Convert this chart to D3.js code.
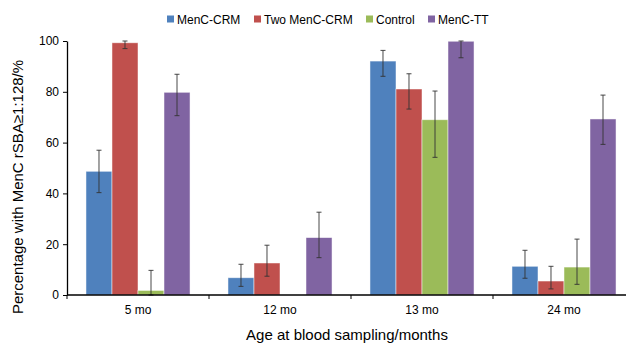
<!DOCTYPE html>
<html>
<head>
<meta charset="utf-8">
<script src="https://cdn.jsdelivr.net/npm/d3@7"></script>
<style>
  html, body { margin: 0; padding: 0; background: #fff; }
  svg { display: block; font-family: "Liberation Sans", Arial, sans-serif; }
</style>
</head>
<body>
<div id="chart"></div>
<script>
// data
const ages = ['5 mo', '12 mo', '13 mo', '24 mo'];
const groups = ['MenC-CRM', 'Two MenC-CRM', 'Control', 'MenC-TT'];
const colors = ['#4F81BD', '#C0504D', '#9BBB59', '#8064A2'];

// percentage per group, one entry per age
const menCCrm = [48.7, 6.8, 92.1, 11.3];
const twoMenCCrm = [99.3, 12.6, 81.1, 5.5];
const control = [1.8, 0, 69, 11];
const menCTT = [79.8, 22.6, 99.9, 69.3];

const menCCrmLo = [40.3, 3.4, 86.1, 6.6];
const menCCrmHi = [57, 12.1, 96.3, 17.6];
const twoMenCCrmLo = [97, 7.4, 73.2, 2.4];
const twoMenCCrmHi = [100, 19.6, 87.1, 11.3];
const controlLo = [0, null, 54.2, 4.2];
const controlHi = [9.7, null, 80.3, 22];
const menCTTLo = [70.6, 14.7, 93.4, 59.3];
const menCTTHi = [86.9, 32.6, 100, 78.7];

const yTicks = [0, 20, 40, 60, 80, 100];

const series = [
  { values: menCCrm, lo: menCCrmLo, hi: menCCrmHi },
  { values: twoMenCCrm, lo: twoMenCCrmLo, hi: twoMenCCrmHi },
  { values: control, lo: controlLo, hi: controlHi },
  { values: menCTT, lo: menCTTLo, hi: menCTTHi },
];

const width = 626;
const height = 344;
const margin = { top: 41, left: 67, bottom: 49 };
const plotRight = 635;

const svg = d3.select('#chart')
  .append('svg')
  .attr('width', width)
  .attr('height', height);

const x = d3.scaleBand().domain(ages).range([margin.left, plotRight]).paddingInner(0).paddingOuter(0);
const inner = d3.scaleBand().domain(groups).range([0, x.bandwidth()]).paddingInner(0).paddingOuter(0.73);
const y = d3.scaleLinear().domain([0, 100]).range([height - margin.bottom, margin.top]);

/* Bars */
series.forEach((s, gi) => {
  const rows = ages.map((age, i) => ({ age, v: s.values[i], lo: s.lo[i], hi: s.hi[i] }));

  svg.append('g')
    .selectAll('rect')
    .data(rows.filter((d) => d.v > 0))
    .join('rect')
    .attr('x', (d) => x(d.age) + inner(groups[gi]))
    .attr('y', (d) => y(d.v))
    .attr('width', inner.bandwidth())
    .attr('height', (d) => y(0) - y(d.v))
    .attr('fill', colors[gi])
    .attr('stroke', '#ffffff')
    .attr('stroke-opacity', 0.6)
    .attr('stroke-width', 0.8);
});

/* Error bars */
series.forEach((s, gi) => {
  const rows = ages.map((age, i) => ({ age, lo: s.lo[i], hi: s.hi[i] })).filter((d) => d.lo != null);
  const g = svg.append('g').attr('stroke', '#333').attr('stroke-width', 0.9);
  rows.forEach((d) => {
    const cx = x(d.age) + inner(groups[gi]) + inner.bandwidth() / 2;
    g.append('line').attr('x1', cx).attr('x2', cx).attr('y1', y(d.hi)).attr('y2', y(d.lo));
    g.append('line').attr('x1', cx - 2.5).attr('x2', cx + 2.5).attr('y1', y(d.hi)).attr('y2', y(d.hi));
    g.append('line').attr('x1', cx - 2.5).attr('x2', cx + 2.5).attr('y1', y(d.lo)).attr('y2', y(d.lo));
  });
});

/* Y axis */
const yAxis = svg.append('g')
  .attr('transform', `translate(${margin.left},0)`)
  .call(d3.axisLeft(y).tickValues(yTicks).tickSize(4).tickSizeOuter(0));
yAxis.select('.domain').attr('stroke', '#000').attr('stroke-width', 1.3);
yAxis.selectAll('line').attr('stroke', '#000');
yAxis.selectAll('text')
  .attr('fill', '#000')
  .attr('font-size', 12)
  .attr('x', -8)
  .style('font-family', '"Liberation Sans", Arial, sans-serif');

/* X axis */
const xAxis = svg.append('g')
  .attr('transform', `translate(0,${y(0)})`);
xAxis.append('line')
  .attr('x1', margin.left)
  .attr('x2', plotRight)
  .attr('stroke', '#000')
  .attr('stroke-width', 1.3);
xAxis.selectAll('line.tick')
  .data(ages)
  .join('line')
  .attr('class', 'tick')
  .attr('x1', (d) => x(d))
  .attr('x2', (d) => x(d))
  .attr('y1', 0)
  .attr('y2', 4)
  .attr('stroke', '#000');
xAxis.selectAll('text')
  .data(ages)
  .join('text')
  .attr('x', (d) => x(d) + x.bandwidth() / 2)
  .attr('y', 19)
  .attr('text-anchor', 'middle')
  .attr('font-size', 12)
  .attr('fill', '#000')
  .text((d) => d);

/* Axis titles */
svg.append('text')
  .attr('transform', `translate(23,187) rotate(-90)`)
  .attr('text-anchor', 'middle')
  .attr('font-size', 15)
  .attr('fill', '#000')
  .text('Percentage with MenC rSBA≥1:128/%');

svg.append('text')
  .attr('x', 347)
  .attr('y', 340)
  .attr('text-anchor', 'middle')
  .attr('font-size', 15)
  .attr('fill', '#000')
  .text('Age at blood sampling/months');

/* Legend */
const legendX = [167, 254, 366, 428];
const legend = svg.append('g');
groups.forEach((name, i) => {
  const g = legend.append('g').attr('transform', `translate(${legendX[i]},19)`);
  g.append('rect').attr('x', 0).attr('y', -3.5).attr('width', 7).attr('height', 7).attr('fill', colors[i]);
  g.append('text')
    .attr('x', 10)
    .attr('y', 4.5)
    .attr('font-size', 12)
    .attr('fill', '#000')
    .text(name);
});
</script>
</body>
</html>
